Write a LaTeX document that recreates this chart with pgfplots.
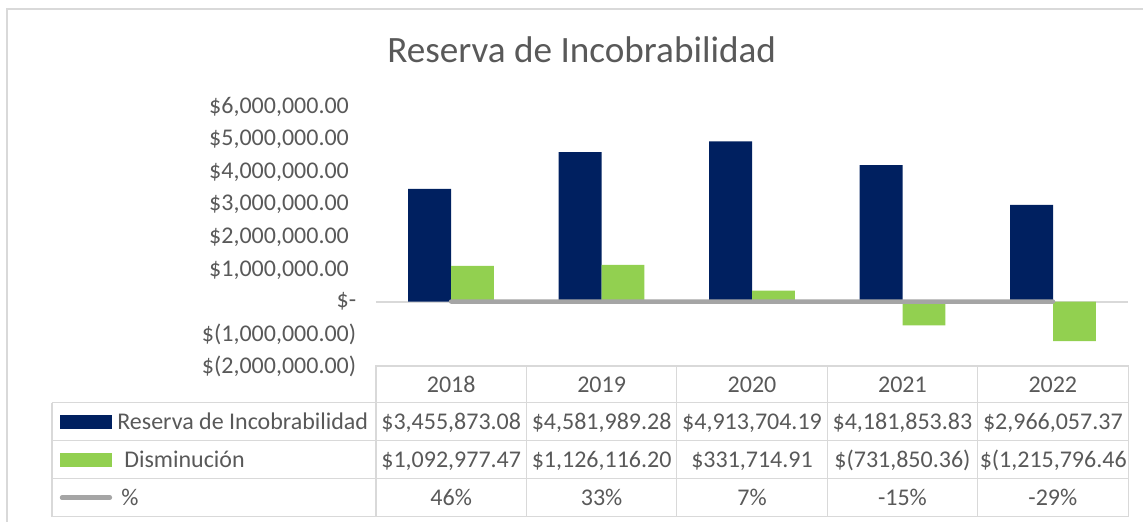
\documentclass[border=0pt]{standalone}
\usepackage{pgfplots}
\pgfplotsset{compat=1.18}
\usepackage{fontspec}
\setmainfont{Carlito}
\definecolor{navy}{HTML}{002060}
\definecolor{lgreen}{HTML}{92D050}
\definecolor{lgray}{HTML}{A5A5A5}
\definecolor{txt}{HTML}{595959}
\definecolor{gridc}{HTML}{D9D9D9}
\newcommand{\tf}{\fontsize{12}{14}\selectfont\color{txt}}
\begin{document}
\begin{tikzpicture}
\path (0,0) rectangle (572pt,261pt);
\begin{axis}[
  at={(188pt,77.5pt)}, anchor=south west,
  scale only axis, width=376.5pt, height=130.5pt,
  xmin=-0.5, xmax=4.5, ymin=-2000000, ymax=6000000,
  axis x line=none, axis y line=left,
  y axis line style={draw=none},
  scaled y ticks=false,
  ytick={-2000000,-1000000,0,1000000,2000000,3000000,4000000,5000000,6000000},
  yticklabels={{\$(2,000,000.00)},{\$(1,000,000.00)},{\$-\hspace{8pt}},{\$1,000,000.00\phantom{)}},{\$2,000,000.00\phantom{)}},{\$3,000,000.00\phantom{)}},{\$4,000,000.00\phantom{)}},{\$5,000,000.00\phantom{)}},{\$6,000,000.00\phantom{)}}},
  ytick style={draw=none},
  yticklabel style={anchor=east, inner sep=0pt, xshift=-7.5pt, font=\fontsize{12}{14}\selectfont, text=txt},
  clip=false,
]
\draw[gridc, line width=1pt] (axis cs:-0.5,0) -- (axis cs:4.5,0);
\addplot[ybar, bar width=21.5pt, bar shift=-10.75pt, fill=navy, draw=none] coordinates {(0,3455873.08) (1,4581989.28) (2,4913704.19) (3,4181853.83) (4,2966057.37)};
\addplot[ybar, bar width=21.5pt, bar shift=10.75pt, fill=lgreen, draw=none] coordinates {(0,1092977.47) (1,1126116.20) (2,331714.91) (3,-731850.36) (4,-1215796.46)};
\addplot[sharp plot, lgray, line width=2.2pt, line cap=round, mark=none] coordinates {(0,0.46) (1,0.33) (2,0.07) (3,-0.15) (4,-0.29)};
\end{axis}
\begin{scope}[x=0.5pt,y=-0.5pt,yshift=261pt]
  % outer border
  \draw[gridc, line width=0.75pt] (7,522) -- (7,9) -- (1144,9);
  % title
  \node[font=\fontsize{18.6}{22}\selectfont, text=txt, anchor=base] at (582,63) {Reserva de Incobrabilidad};
  % table lines
  \draw[gridc, line width=0.75pt] (376,403) -- (376,366) -- (1129,366) -- (1129,517);
  \foreach \x in {527,677,828,978} \draw[gridc, line width=0.75pt] (\x,366) -- (\x,517);
  \draw[gridc, line width=0.75pt] (52,403) -- (1129,403);
  \draw[gridc, line width=0.75pt] (52,441) -- (1129,441);
  \draw[gridc, line width=0.75pt] (52,479) -- (1129,479);
  \draw[gridc, line width=0.75pt] (52,517) -- (1129,517);
  \draw[gridc, line width=0.75pt] (52,403) -- (52,517);
  \draw[gridc, line width=0.75pt] (376,403) -- (376,517);
  % header years
  \foreach \x/\yr in {451.5/2018,602/2019,752.5/2020,903/2021,1053.5/2022}
    \node[anchor=mid, inner sep=0pt] at (\x,388) {\tf \yr};
  % legend keys
  \fill[navy] (60,415) rectangle (112,429);
  \fill[lgreen] (60,453) rectangle (112,467);
  \draw[lgray, line width=2.2pt, line cap=round] (62,498) -- (110,498);
  \node[anchor=mid west, inner sep=0pt] at (117,425) {\tf Reserva de Incobrabilidad};
  \node[anchor=mid west, inner sep=0pt] at (124,463) {\tf Disminución};
  \node[anchor=mid west, inner sep=0pt] at (121,501) {\tf \%};
  % row 1
  \foreach \x/\v in {451.5/{\$3,455,873.08},602/{\$4,581,989.28},752.5/{\$4,913,704.19},903/{\$4,181,853.83},1053.5/{\$2,966,057.37}}
    \node[anchor=mid, inner sep=0pt] at (\x,425) {\tf \v};
  % row 2
  \foreach \x/\v in {451.5/{\$1,092,977.47},602/{\$1,126,116.20},752.5/{\$331,714.91},903/{\$(731,850.36)}}
    \node[anchor=mid, inner sep=0pt] at (\x,463) {\tf \v};
  \node[anchor=mid west, inner sep=0pt] at (980,463) {\tf \$(1,215,796.46};
  % row 3
  \foreach \x/\v in {451.5/46\%,602/33\%,752.5/7\%,903/-15\%,1053.5/-29\%}
    \node[anchor=mid, inner sep=0pt] at (\x,501) {\tf \v};
\end{scope}
\end{tikzpicture}
\end{document}
